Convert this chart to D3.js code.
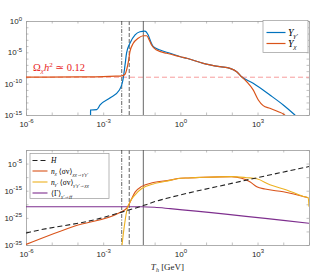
<!DOCTYPE html>
<html>
<head>
<meta charset="utf-8">
<script src="https://cdn.jsdelivr.net/npm/d3@7"></script>
<style>
  body { margin: 0; background: #fff; }
  svg { display: block; font-family: "Liberation Sans", Arial, sans-serif; }
  .tx { font-family: "Liberation Serif", "DejaVu Serif", serif; font-style: italic; }
</style>
</head>
<body>
<div id="chart"></div>
<script>
// values as [log10 T_h, log10 y]
const yGammaP = [[-3.492,-16],[-3.49,-14.2],[-3.25,-14.15],[-3.12,-13.4],[-2.74,-12.3],[-2.37,-11.0],[-2.28,-10.2],
  [-2.22,-9.1],[-2.15,-7.0],[-2.09,-5.1],[-1.96,-3.56],[-1.76,-2.23],[-1.57,-1.71],[-1.38,-1.6],[-1.25,-2.23],
  [-1.15,-3.3],[-1.05,-4.1],[-0.79,-4.63],[-0.4,-5.15],[0,-5.7],[0.25,-5.95],[0.89,-6.75],[1.54,-7.29],
  [1.93,-7.55],[2.19,-8.09],[2.38,-8.89],[2.83,-9.94],[3.48,-11.81],[4.0,-13.4],[4.42,-14.89],[4.6,-15.6]];
const yChi = [[-6,-8.97],[-4,-8.93],[-3,-8.88],[-2.5,-8.8],[-2.28,-8.75],[-2.15,-8.5],[-2.09,-7.82],[-2.02,-6.49],
  [-1.96,-4.9],[-1.83,-3.56],[-1.64,-2.76],[-1.44,-2.35],[-1.31,-2.35],[-1.21,-3.03],[-1.12,-3.83],[-0.92,-4.63],
  [-0.53,-5.15],[0,-5.7],[0.25,-5.95],[0.89,-6.75],[1.54,-7.29],[1.93,-7.55],[2.19,-8.09],[2.38,-8.89],
  [2.58,-9.69],[2.83,-11.0],[3.03,-12.6],[3.22,-13.5],[3.48,-13.93],[3.81,-14.47],[4.0,-14.84],[4.08,-15.1]];
const relicLevel = -8.97;

const hubble = [[-6,-30.6],[-5.87,-30.3],[-3.12,-25.2],[-2.22,-22.7],[-1.38,-20.3],[-0.99,-19.0],[-0.4,-17.5],
  [1.99,-12.3],[5,-6.1]];
const rateChi = [[-6,-34.8],[-4.1,-28.0],[-2.35,-23.0],[-2.09,-21.5],[-1.96,-19.3],[-1.76,-15.5],[-1.5,-13.4],
  [-1.05,-12.0],[-0.4,-11.1],[0,-10.4],[0.3,-10.3],[0.89,-10.05],[1.99,-9.8],[2.38,-10.4],[2.7,-11.7],
  [2.97,-13.5],[3.29,-14.4],[4.0,-15.4],[4.97,-17.6]];
const rateGammaP = [[-2.28,-36],[-2.19,-28.9],[-2.09,-22.7],[-1.96,-19.2],[-1.76,-16.5],[-1.5,-14.2],
  [-1.05,-12.5],[-0.4,-11.2],[0,-10.4],[0.3,-10.3],[0.89,-10.05],[1.99,-9.8],[2.58,-10.2],[2.97,-10.6],
  [3.48,-12.8],[4.13,-14.7],[4.78,-17.1],[4.97,-17.6],[5.0,-20.9]];
const decayRate = [[-6,-20.9],[-1.5,-20.9],[-1.0,-21.1],[-0.4,-21.6],[5,-27.0]];

const vLines = [-2.28, -1.985, -1.44];
const xTicks = [-6, -3, 0, 3];
const yTicksTop = [0, -5, -10, -15];
const yTicksBot = [-5, -15, -25, -35];

const W = 310, H = 275;
const L = 26, R = 309;
const top1 = 21, bot1 = 115, top2 = 150, bot2 = 245;
const c = {blue: "#0072BD", orange: "#D95319", yellow: "#EDB120", purple: "#7E2F8E"};

const svg = d3.select("#chart").append("svg").attr("width", W).attr("height", H);

const x = d3.scaleLog().domain([1e-6, 1e5]).range([L, R]);
const y1 = d3.scaleLog().domain([1e-15, 1]).range([bot1, top1]);
const y2 = d3.scaleLog().domain([1e-35, 1]).range([bot2, top2]);

function supLabel(sel) {
  sel.each(function(d) {
    const t = d3.select(this);
    const e = Math.round(Math.log10(d));
    t.text("10");
    t.append("tspan").attr("dy", -3.5).attr("font-size", 6).text(e);
  });
}

function panel(ys, yt, yMinor, topY, botY, id) {
  const g = svg.append("g");
  g.append("clipPath").attr("id", id).append("rect")
    .attr("x", L).attr("y", topY).attr("width", R - L).attr("height", botY - topY);

  const allDec = d3.range(-6, 6).map(e => Math.pow(10, e));
  const yMin = yMinor.map(e => Math.pow(10, e));

  const ax = g.append("g").attr("transform", `translate(0,${botY})`)
    .call(d3.axisBottom(x).tickValues(allDec).tickSizeInner(-2.5).tickSizeOuter(0).tickPadding(6)
      .tickFormat(d => xTicks.includes(Math.round(Math.log10(d))) ? d : ""));
  ax.selectAll("text").filter(d => xTicks.includes(Math.round(Math.log10(d)))).call(supLabel);
  g.append("g").attr("transform", `translate(0,${topY})`)
    .call(d3.axisTop(x).tickValues(allDec).tickSizeInner(-2.5).tickSizeOuter(0).tickFormat(""));
  const ay = g.append("g").attr("transform", `translate(${L},0)`)
    .call(d3.axisLeft(ys).tickValues(yMin).tickSizeInner(-2.5).tickSizeOuter(0).tickPadding(4)
      .tickFormat(d => yt.includes(Math.round(Math.log10(d))) ? d : ""));
  ay.selectAll("text").filter(d => yt.includes(Math.round(Math.log10(d)))).call(supLabel);
  g.append("g").attr("transform", `translate(${R},0)`)
    .call(d3.axisRight(ys).tickValues(yMin).tickSizeInner(-2.5).tickSizeOuter(0).tickFormat(""));
  g.selectAll(".domain").attr("stroke", "#999").attr("stroke-width", 0.8);
  g.selectAll(".tick line").attr("stroke", "#999").attr("stroke-width", 0.6);
  g.selectAll(".tick text").attr("fill", "#262626").attr("font-size", 8)
    .attr("font-family", "Liberation Sans, Arial, sans-serif");

  const plot = g.append("g").attr("clip-path", `url(#${id})`);
  return {g, plot};
}

function lineOf(ys) {
  return d3.line().x(d => x(Math.pow(10, d[0]))).y(d => ys(Math.pow(10, d[1]))).curve(d3.curveMonotoneX);
}

function vertLines(plot, topY, botY) {
  const styles = [
    {stroke: "#222", dash: "4,1.5,1,1.5", w: 0.7},
    {stroke: "#888", dash: "4,2", w: 1.3},
    {stroke: "#555", dash: null, w: 0.9}
  ];
  vLines.forEach((v, i) => {
    plot.append("line").attr("x1", x(Math.pow(10, v))).attr("x2", x(Math.pow(10, v)))
      .attr("y1", topY).attr("y2", botY)
      .attr("stroke", styles[i].stroke).attr("stroke-width", styles[i].w)
      .attr("stroke-dasharray", styles[i].dash);
  });
}

// ---- top panel
const p1 = panel(y1, yTicksTop, d3.range(-15, 1), top1, bot1, "clip1");
p1.plot.append("line").attr("x1", L).attr("x2", R)
  .attr("y1", y1(Math.pow(10, relicLevel))).attr("y2", y1(Math.pow(10, relicLevel)))
  .attr("stroke", "#f59090").attr("stroke-width", 0.9).attr("stroke-dasharray", "5,3");
vertLines(p1.plot, top1, bot1);
p1.plot.append("path").datum(yGammaP).attr("d", lineOf(y1))
  .attr("fill", "none").attr("stroke", c.blue).attr("stroke-width", 1.2);
p1.plot.append("path").datum(yChi).attr("d", lineOf(y1))
  .attr("fill", "none").attr("stroke", c.orange).attr("stroke-width", 1.2);

const ann = svg.append("text").attr("class", "tx").attr("x", 33).attr("y", 71)
  .attr("fill", "#e8231b").attr("font-size", 10.5);
ann.append("tspan").attr("font-style", "normal").text("Ω");
ann.append("tspan").attr("dy", 2).attr("font-size", 7).text("χ");
ann.append("tspan").attr("dy", -2).text("h");
ann.append("tspan").attr("dy", -4).attr("font-size", 7).attr("font-style", "normal").text("2");
ann.append("tspan").attr("dy", 4).attr("font-style", "normal").text(" ≃ 0.12");

const lg1 = svg.append("g");
lg1.append("rect").attr("x", 263).attr("y", 20.5).attr("width", 45).attr("height", 32)
  .attr("fill", "#fff").attr("stroke", "#999").attr("stroke-width", 0.7);
[[c.blue, "γ′", 32.5], [c.orange, "χ", 43.5]].forEach(([col, sub, yy]) => {
  lg1.append("line").attr("x1", 266.5).attr("x2", 285.5).attr("y1", yy).attr("y2", yy)
    .attr("stroke", col).attr("stroke-width", 1.2);
  const t = lg1.append("text").attr("class", "tx").attr("x", 288).attr("y", yy + 3.5).attr("font-size", 10);
  t.append("tspan").text("Y");
  t.append("tspan").attr("dy", 2).attr("font-size", 7).text(sub);
});

// ---- bottom panel
const p2 = panel(y2, yTicksBot, d3.range(-35, 1, 5), top2, bot2, "clip2");
vertLines(p2.plot, top2, bot2);
p2.plot.append("path").datum(decayRate).attr("d", lineOf(y2))
  .attr("fill", "none").attr("stroke", c.purple).attr("stroke-width", 1.1);
p2.plot.append("path").datum(rateChi).attr("d", lineOf(y2))
  .attr("fill", "none").attr("stroke", c.orange).attr("stroke-width", 1.1);
p2.plot.append("path").datum(rateGammaP).attr("d", lineOf(y2))
  .attr("fill", "none").attr("stroke", c.yellow).attr("stroke-width", 1.1);
p2.plot.append("path").datum(hubble).attr("d", lineOf(y2))
  .attr("fill", "none").attr("stroke", "#222").attr("stroke-width", 1.1).attr("stroke-dasharray", "5,3");

const lg2 = svg.append("g");
lg2.append("rect").attr("x", 30).attr("y", 153.5).attr("width", 79).attr("height", 45)
  .attr("fill", "#fff").attr("stroke", "#999").attr("stroke-width", 0.7);
const entries = [
  {col: "#222", dash: "5,3", y: 160.5},
  {col: c.orange, dash: null, y: 171},
  {col: c.yellow, dash: null, y: 182},
  {col: c.purple, dash: null, y: 193}
];
entries.forEach(e => {
  lg2.append("line").attr("x1", 32.5).attr("x2", 47.5).attr("y1", e.y).attr("y2", e.y)
    .attr("stroke", e.col).attr("stroke-width", 1.1).attr("stroke-dasharray", e.dash);
});
function legendText(yy) {
  return lg2.append("text").attr("class", "tx").attr("x", 51).attr("y", yy + 2.5).attr("font-size", 7.5);
}
legendText(160.5).text("H");
let t = legendText(171);
t.append("tspan").text("n");
t.append("tspan").attr("dy", 1.5).attr("font-size", 5).text("χ");
t.append("tspan").attr("dy", -1.5).attr("font-style", "normal").text(" ⟨σv⟩");
t.append("tspan").attr("dy", 2).attr("font-size", 5).text("χχ̄→γ′γ′");
t = legendText(182);
t.append("tspan").text("n");
t.append("tspan").attr("dy", 1.5).attr("font-size", 5).text("γ′");
t.append("tspan").attr("dy", -1.5).attr("font-style", "normal").text(" ⟨σv⟩");
t.append("tspan").attr("dy", 2).attr("font-size", 5).text("γ′γ′→χχ̄");
t = legendText(193);
t.append("tspan").attr("font-style", "normal").text("⟨Γ⟩");
t.append("tspan").attr("dy", 2).attr("font-size", 5).text("γ′→ff̄");

// x label
const xl = svg.append("text").attr("x", (L + R) / 2).attr("y", 270).attr("text-anchor", "middle")
  .attr("font-size", 9).attr("fill", "#262626").attr("font-family", "Liberation Serif, DejaVu Serif, serif");
xl.append("tspan").attr("font-style", "italic").text("T");
xl.append("tspan").attr("dy", 2).attr("font-size", 6).attr("font-style", "italic").text("h");
xl.append("tspan").attr("dy", -2).text(" [GeV]");
</script>
</body>
</html>
